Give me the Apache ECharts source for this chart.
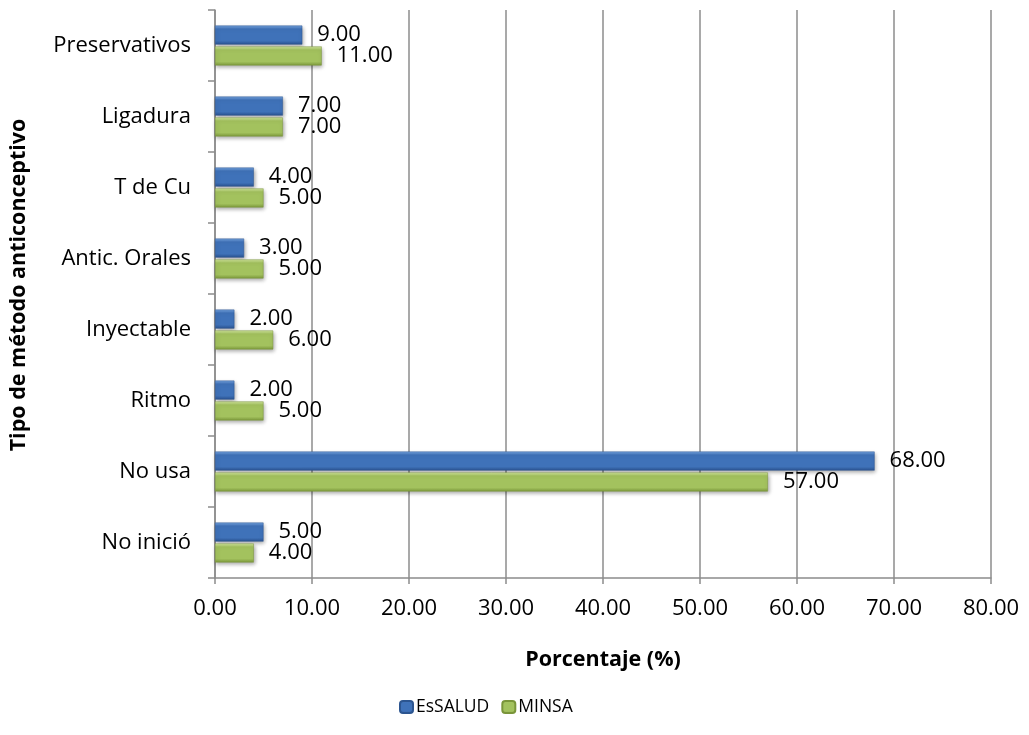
<!DOCTYPE html>
<html>
<head>
<meta charset="utf-8">
<script src="https://cdn.jsdelivr.net/npm/echarts@6/dist/echarts.min.js"></script>
<style>
  html, body { margin: 0; padding: 0; background: #fff; }
  #chart { width: 1029px; height: 735px; }
</style>
</head>
<body>
<div id="chart"></div>
<script>
// Contraceptive method by institution, in percent
const categories = ['No inició', 'No usa', 'Ritmo', 'Inyectable', 'Antic. Orales', 'T de Cu', 'Ligadura', 'Preservativos'];
const essalud = [5, 68, 2, 2, 3, 4, 7, 9];
const minsa = [4, 57, 5, 6, 5, 5, 7, 11];

const FONT = 'Open Sans';

function bevel(light, mid, dark) {
  return new echarts.graphic.LinearGradient(0, 0, 0, 1, [
    { offset: 0, color: light },
    { offset: 0.18, color: mid },
    { offset: 0.8, color: mid },
    { offset: 1, color: dark }
  ]);
}

const blueFill = bevel('#79a7e3', '#3f72b9', '#2a5290');
const greenFill = bevel('#d4e8a0', '#a3c25e', '#7d9a3c');

const labelStyle = {
  show: true,
  position: 'right',
  distance: 15,
  color: '#000',
  fontFamily: FONT,
  fontSize: 22,
  formatter: p => p.value.toFixed(2)
};

const chart = echarts.init(document.getElementById('chart'), null, { renderer: 'canvas' });
chart.setOption({
  animation: false,
  grid: { left: 214, right: 38, top: 10, bottom: 157, containLabel: false },
  legend: {
    data: ['EsSALUD', 'MINSA'],
    bottom: 14,
    left: 394,
    itemWidth: 13,
    itemHeight: 12,
    itemGap: 12,
    textStyle: { fontFamily: FONT, fontSize: 17.5, color: '#000', padding: [0, 0, 0, -2] },
  },
  xAxis: {
    type: 'value',
    min: 0,
    max: 80,
    interval: 10,
    name: 'Porcentaje (%)',
    nameLocation: 'middle',
    nameGap: 71,
    nameTextStyle: { fontFamily: FONT, fontSize: 21.5, fontWeight: 'bold', color: '#000' },
    axisLine: { show: true, lineStyle: { color: '#8c8c8c', width: 1.5 } },
    axisTick: { show: true, length: 6, lineStyle: { color: '#8c8c8c', width: 1.5 } },
    axisLabel: { fontFamily: FONT, fontSize: 22, color: '#000', margin: 20, formatter: v => v.toFixed(2) },
    splitLine: { show: true, lineStyle: { color: '#8c8c8c', width: 1.5 } }
  },
  yAxis: {
    type: 'category',
    data: categories,
    name: 'Tipo de método anticonceptivo',
    nameLocation: 'middle',
    nameGap: 185,
    nameRotate: 90,
    nameTextStyle: { fontFamily: FONT, fontSize: 21.5, fontWeight: 'bold', color: '#000', padding: [0, 0, 0, 18] },
    axisLine: { show: true, lineStyle: { color: '#8c8c8c', width: 1.5 } },
    axisTick: { show: true, length: 7, lineStyle: { color: '#8c8c8c', width: 1.5 } },
    axisLabel: { fontFamily: FONT, fontSize: 22, color: '#000', margin: 24 },
    splitLine: { show: false }
  },
  series: [
    {
      name: 'EsSALUD',
      type: 'bar',
      data: essalud,
      barWidth: 19,
      barGap: '10%',
      barCategoryGap: '44%',
      itemStyle: { color: blueFill, borderColor: '#2c5590', borderWidth: 0.5, shadowColor: 'rgba(0,0,0,0.35)', shadowBlur: 4, shadowOffsetY: 2, shadowOffsetX: 1 },
      label: labelStyle
    },
    {
      name: 'MINSA',
      type: 'bar',
      data: minsa,
      barWidth: 19,
      barGap: '10%',
      itemStyle: { color: greenFill, borderColor: '#7a953a', borderWidth: 0.5, shadowColor: 'rgba(0,0,0,0.35)', shadowBlur: 4, shadowOffsetY: 2, shadowOffsetX: 1 },
      label: labelStyle
    }
  ]
});
</script>
</body>
</html>
